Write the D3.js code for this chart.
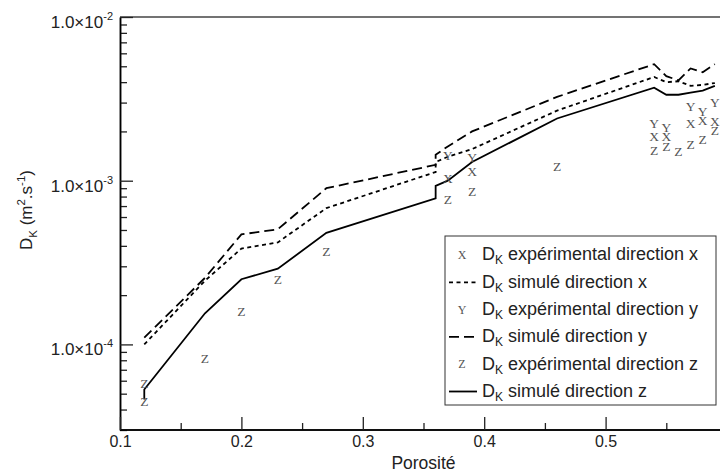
<!DOCTYPE html>
<html>
<head>
<meta charset="utf-8">
<script src="https://cdn.jsdelivr.net/npm/d3@7"></script>
<style>
  body { margin: 0; background: #fff; }
  svg { font-family: "Liberation Sans", Arial, sans-serif; }
</style>
</head>
<body>
<svg id="chart"></svg>
<script>
let width = 720;
let height = 473;

// porosité / D_K
let simX = [[0.12,1.0e-4],[0.17,2.45e-4],[0.20,3.85e-4],[0.23,4.2e-4],[0.27,6.8e-4],[0.36,1.13e-3],[0.36,1.3e-3],[0.37,1.4e-3],[0.39,1.56e-3],[0.46,2.68e-3],[0.54,4.3e-3],[0.55,4.0e-3],[0.56,4.05e-3],[0.57,3.8e-3],[0.58,3.85e-3],[0.59,3.95e-3]];
let simY = [[0.12,1.1e-4],[0.17,2.55e-4],[0.20,4.7e-4],[0.23,5.05e-4],[0.27,9.0e-4],[0.36,1.25e-3],[0.36,1.44e-3],[0.37,1.62e-3],[0.39,2.0e-3],[0.46,3.25e-3],[0.54,5.15e-3],[0.55,4.35e-3],[0.56,4.1e-3],[0.57,4.85e-3],[0.58,4.6e-3],[0.59,5.15e-3]];
let simZ = [[0.12,4.6e-5],[0.12,5.3e-5],[0.17,1.55e-4],[0.20,2.5e-4],[0.23,2.9e-4],[0.27,4.8e-4],[0.36,7.8e-4],[0.36,9.3e-4],[0.37,1.0e-3],[0.39,1.3e-3],[0.46,2.4e-3],[0.54,3.7e-3],[0.55,3.35e-3],[0.56,3.35e-3],[0.57,3.45e-3],[0.58,3.55e-3],[0.59,3.8e-3]];

let expX = [[0.37,1.03e-3],[0.39,1.14e-3],[0.54,1.86e-3],[0.55,1.86e-3],[0.57,2.24e-3],[0.58,2.35e-3],[0.59,2.32e-3]];
let expY = [[0.37,1.44e-3],[0.39,1.4e-3],[0.54,2.24e-3],[0.55,2.12e-3],[0.57,2.83e-3],[0.58,2.64e-3],[0.59,3.0e-3]];
let expZ = [[0.12,5.8e-5],[0.12,4.5e-5],[0.17,8.2e-5],[0.20,1.6e-4],[0.23,2.5e-4],[0.27,3.72e-4],[0.37,7.7e-4],[0.39,8.6e-4],[0.46,1.23e-3],[0.54,1.54e-3],[0.55,1.63e-3],[0.56,1.52e-3],[0.57,1.68e-3],[0.58,1.8e-3],[0.59,2.04e-3]];

let xMajor = [0.1, 0.2, 0.3, 0.4, 0.5];
let xMinor = [0.15, 0.25, 0.35, 0.45, 0.55];
let yMajor = [1e-4, 1e-3, 1e-2];
let yExp = ["-4", "-3", "-2"];

let legendRows = [
    {type: "mark", mark: "X", text: " expérimental direction x"},
    {type: "line", dash: "4,3.5", text: " simulé direction x"},
    {type: "mark", mark: "Y", text: " expérimental direction y"},
    {type: "line", dash: "10,5", text: " simulé direction y"},
    {type: "mark", mark: "Z", text: " expérimental direction z"},
    {type: "line", dash: null, text: " simulé direction z"}
];

function main() {
    let padding = {left: 120, top: 17, bottom: 43};
    let svg = d3.select("#chart").attr("width", width).attr("height", height);

    let x = d3.scaleLinear().domain([0.1, 0.6]).range([padding.left, 727]);
    let y = d3.scaleLog().domain([3e-5, 1e-2]).range([height - padding.bottom, padding.top]);

    // minor y ticks
    let yMinor = [];
    [1e-5, 1e-4, 1e-3].forEach(d => { for (let k = 2; k <= 9; k++) { let v = d * k; if (v >= 3e-5 && v < 1e-2) yMinor.push(v); } });

    // cadre du haut
    svg.append("line")
        .attr("x1", padding.left).attr("x2", width)
        .attr("y1", padding.top).attr("y2", padding.top)
        .attr("stroke", "#444").attr("stroke-width", 1.5);

    // axe y
    let gy = svg.append("g").attr("transform", `translate(${padding.left},0)`);
    gy.call(d3.axisLeft(y).tickValues(yMinor).tickSizeInner(-7).tickSizeOuter(0).tickFormat(""));
    let gy2 = svg.append("g").attr("transform", `translate(${padding.left},0)`);
    gy2.call(d3.axisLeft(y).tickValues(yMajor).tickSizeInner(-13).tickSizeOuter(0).tickPadding(7).tickFormat(""));
    gy2.selectAll(".tick text").each(function(d, i) {
        let t = d3.select(this).attr("dy", "0.32em").attr("y", 5)
            .attr("font-size", 17).attr("fill", "#222").attr("font-family", "Liberation Sans, Arial, sans-serif");
        t.append("tspan").text("1.0×10");
        t.append("tspan").attr("font-size", 11).attr("dy", -8).text(yExp[i]);
    });

    // axe x
    let gx = svg.append("g").attr("transform", `translate(0,${height - padding.bottom})`);
    gx.call(d3.axisBottom(x).tickValues(xMinor).tickSizeInner(-7).tickSizeOuter(0).tickFormat(""));
    let gx2 = svg.append("g").attr("transform", `translate(0,${height - padding.bottom})`);
    gx2.call(d3.axisBottom(x).tickValues(xMajor).tickSizeInner(-13).tickSizeOuter(0).tickPadding(6).tickFormat(d3.format(".1f")));
    gx2.selectAll(".tick text").attr("font-size", 16).attr("fill", "#222").attr("font-family", "Liberation Sans, Arial, sans-serif");

    svg.selectAll(".domain").attr("stroke", "#000").attr("stroke-width", 1.5);
    svg.selectAll(".tick line").attr("stroke", "#222").attr("stroke-width", 1.3);
    // cut x domain at the visible edge
    gx.select(".domain").attr("d", `M${padding.left},0H${width}`);
    gx2.select(".domain").attr("d", `M${padding.left},0H${width}`);

    // titres
    svg.append("text")
        .attr("x", x(0.35)).attr("y", 469)
        .attr("text-anchor", "middle").attr("font-size", 17.5).attr("fill", "#222")
        .text("Porosité");

    let yt = svg.append("text")
        .attr("transform", `translate(32,210) rotate(-90)`)
        .attr("text-anchor", "middle").attr("font-size", 17).attr("fill", "#222");
    yt.append("tspan").text("D");
    yt.append("tspan").attr("font-size", 11.5).attr("dy", 5).text("K");
    yt.append("tspan").attr("dy", -5).text(" (m");
    yt.append("tspan").attr("font-size", 11.5).attr("dy", -7).text("2");
    yt.append("tspan").attr("dy", 7).text(".s");
    yt.append("tspan").attr("font-size", 11.5).attr("dy", -7).text("-1");
    yt.append("tspan").attr("dy", 7).text(")");

    // courbes simulées
    let line = d3.line().x(d => x(d[0])).y(d => y(d[1]));
    [[simX, "4,3.5"], [simY, "10,5"], [simZ, null]].forEach(([data, dash]) => {
        svg.append("path")
            .datum(data)
            .attr("d", line)
            .attr("fill", "none")
            .attr("stroke", "#000")
            .attr("stroke-width", 1.8)
            .attr("stroke-dasharray", dash);
    });

    // points expérimentaux
    [[expX, "X"], [expY, "Y"], [expZ, "Z"]].forEach(([data, m]) => {
        svg.append("g").selectAll("text")
            .data(data)
            .join("text")
            .attr("x", d => x(d[0]))
            .attr("y", d => y(d[1]))
            .attr("dy", "0.35em")
            .attr("text-anchor", "middle")
            .attr("font-family", "Liberation Serif, Times New Roman, serif")
            .attr("font-size", 13.5)
            .attr("fill", "#555")
            .text(m);
    });

    // légende
    let lg = svg.append("g").attr("transform", "translate(445,236)");
    lg.append("rect")
        .attr("width", 271).attr("height", 169)
        .attr("fill", "#fff").attr("stroke", "#333").attr("stroke-width", 1);
    legendRows.forEach((r, i) => {
        let cy = 19 + i * 27.3;
        if (r.type === "mark") {
            lg.append("text")
                .attr("x", 17).attr("y", cy).attr("dy", "0.35em")
                .attr("text-anchor", "middle")
                .attr("font-family", "Liberation Serif, Times New Roman, serif")
                .attr("font-size", 12).attr("fill", "#555")
                .text(r.mark);
        } else {
            lg.append("line")
                .attr("x1", 4).attr("x2", 32).attr("y1", cy).attr("y2", cy)
                .attr("stroke", "#000").attr("stroke-width", 1.8)
                .attr("stroke-dasharray", r.dash);
        }
        let t = lg.append("text")
            .attr("x", 37).attr("y", cy).attr("dy", "0.3em")
            .attr("font-size", 18).attr("fill", "#222");
        t.append("tspan").text("D");
        t.append("tspan").attr("font-size", 12).attr("dy", 4).text("K");
        t.append("tspan").attr("dy", -4).text(r.text);
    });
}
main()
</script>
</body>
</html>
